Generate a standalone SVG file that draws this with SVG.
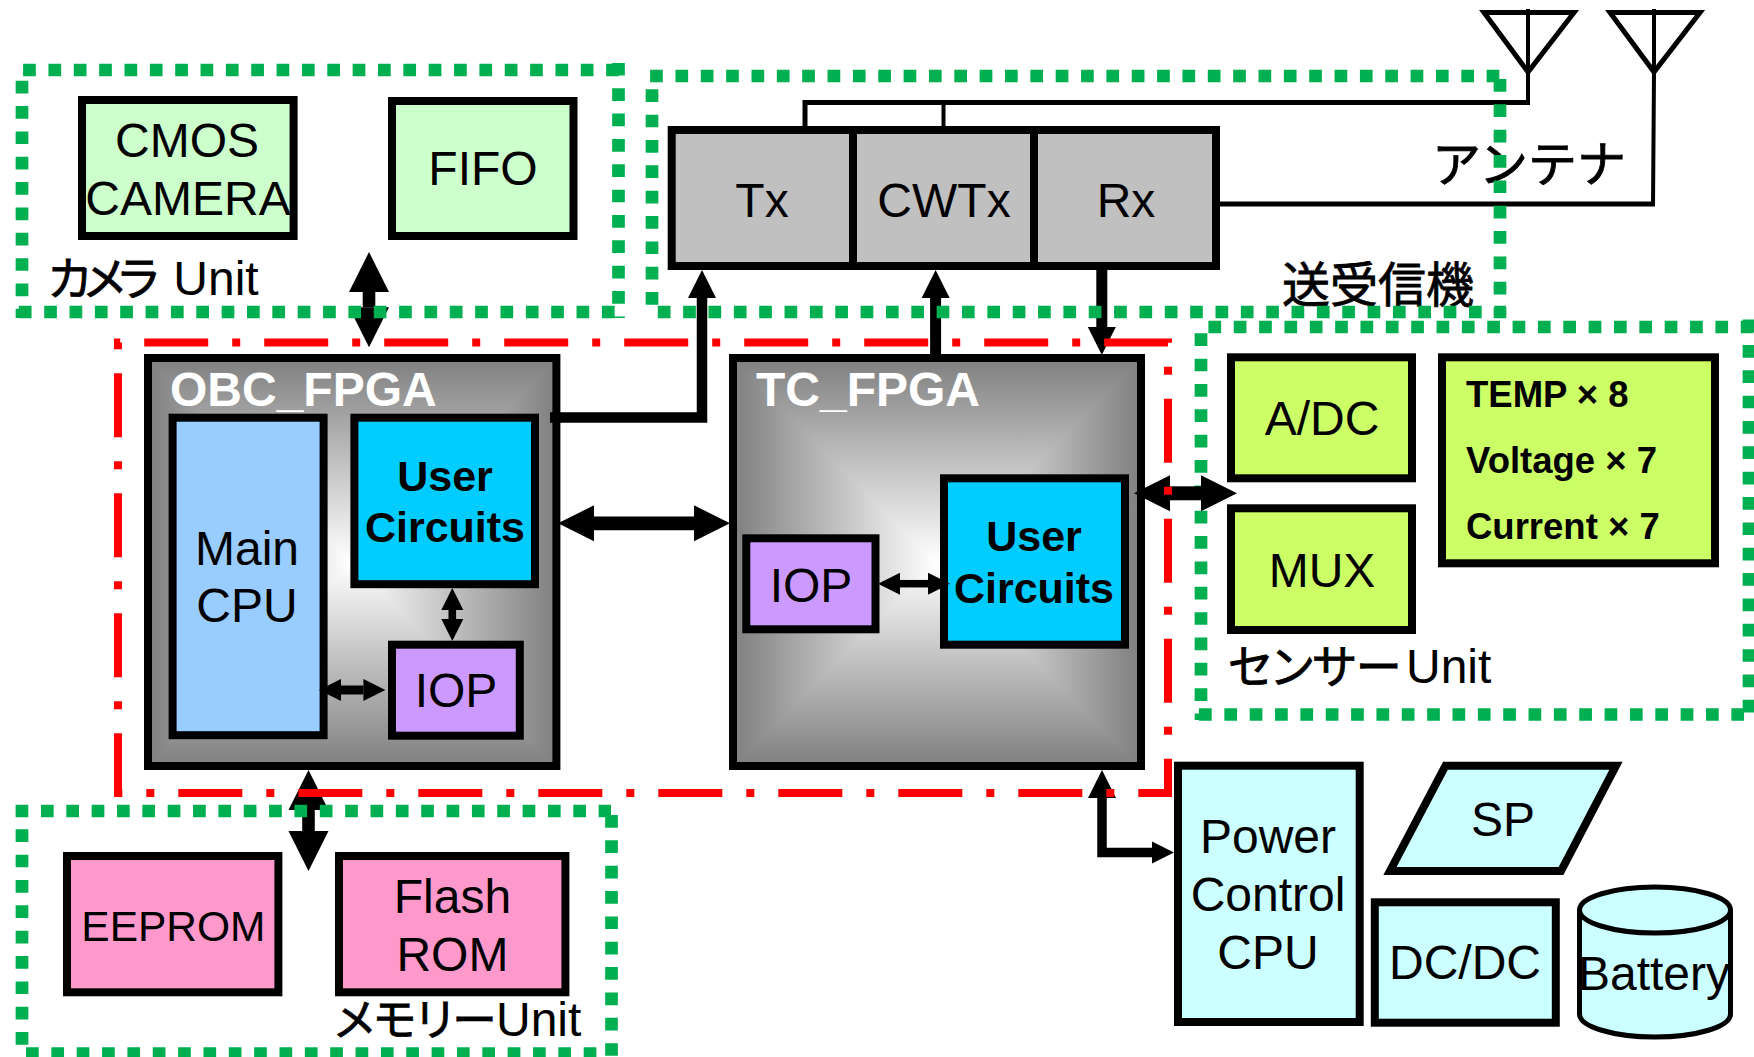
<svg xmlns="http://www.w3.org/2000/svg" width="1754" height="1057" viewBox="0 0 1754 1057">
<style>
text{font-family:"Liberation Sans","Noto Sans CJK JP",sans-serif;font-size:48px;fill:#000;text-anchor:middle}
.ub{font-weight:bold;font-size:43px}
.w{font-weight:bold;fill:#fff;text-anchor:start}
.m{font-weight:bold;font-size:36.5px;text-anchor:start}
.l{text-anchor:start}
.k{font-family:"Noto Sans CJK JP",sans-serif;font-size:46px;font-feature-settings:"palt";stroke:#000;stroke-width:.8}
.n{stroke:#000;stroke-width:8}
.green{fill:#CCFFCC}.gray{fill:#C0C0C0}.blue{fill:#99CCFF}.cyan{fill:#00CCFF}.purple{fill:#CC99FF}.lime{fill:#CCFF66}.pink{fill:#FF99CC}.pale{fill:#CCFFFF}
.frame{fill:none;stroke:#00B050;stroke-width:12.7;stroke-dasharray:12.7 12.65}
.red{fill:none;stroke:#F00;stroke-width:8;stroke-dasharray:64 24 8 24;stroke-dashoffset:93.8}
.wire{fill:none;stroke:#000}
.c{fill:none;stroke:#000}
.grad{shape-rendering:crispEdges}
</style>
<defs>
<linearGradient id="gT" x1="0" y1="0" x2="0" y2="1"><stop offset="0" stop-color="#7F7F7F"/><stop offset="1" stop-color="#fff"/></linearGradient>
<linearGradient id="gB" x1="0" y1="1" x2="0" y2="0"><stop offset="0" stop-color="#7F7F7F"/><stop offset="1" stop-color="#fff"/></linearGradient>
<linearGradient id="gL" x1="0" y1="0" x2="1" y2="0"><stop offset="0" stop-color="#7F7F7F"/><stop offset="1" stop-color="#fff"/></linearGradient>
<linearGradient id="gR" x1="1" y1="0" x2="0" y2="0"><stop offset="0" stop-color="#7F7F7F"/><stop offset="1" stop-color="#fff"/></linearGradient>
<marker id="a40" markerUnits="userSpaceOnUse" viewBox="0 0 10 10" refX="0" refY="5" markerWidth="40" markerHeight="40" orient="auto-start-reverse" overflow="visible"><path d="M0,0L10,5L0,10z"/></marker>
<marker id="a36" markerUnits="userSpaceOnUse" viewBox="0 0 10 10" refX="0" refY="5" markerWidth="36" markerHeight="39.5" orient="auto-start-reverse" overflow="visible"><path d="M0,0L10,5L0,10z"/></marker>
<marker id="a28" markerUnits="userSpaceOnUse" viewBox="0 0 10 10" refX="0" refY="5" markerWidth="28" markerHeight="31" orient="auto-start-reverse" overflow="visible"><path d="M0,0L10,5L0,10z"/></marker>
<marker id="a22" markerUnits="userSpaceOnUse" viewBox="0 0 10 10" refX="0" refY="5" markerWidth="22" markerHeight="24" orient="auto-start-reverse" overflow="visible"><path d="M0,0L10,5L0,10z"/></marker>
</defs>
<rect width="1754" height="1057" fill="#fff"/>
<g id="frame-sensor"><path class="frame" d="M1208.4,327H1754M1749,319.6V720M1199,714.5H1754M1201,333.3V720"/></g>

<g id="antenna-1"><path class="wire" stroke-width="5" d="M1484,12.5H1574L1528,72z"/><path class="wire" stroke-width="4" d="M1528,9V105"/></g>
<g id="antenna-2"><path class="wire" stroke-width="5" d="M1610,12.5H1700L1654,72z"/><path class="wire" stroke-width="4" d="M1654,9V73L1653,206"/></g>
<g id="wires"><path class="wire" stroke-width="5" d="M805,126V102.5H1530"/><path class="wire" stroke-width="4" d="M943.5,102.5V126"/><path class="wire" stroke-width="5" d="M1218,204H1655"/></g>

<g id="cmos"><rect class="n green" x="82" y="100" width="211.6" height="136"/><text x="187" y="157">CMOS</text><text x="188" y="215">CAMERA</text></g>
<g id="fifo"><rect class="n green" x="392" y="101" width="181.5" height="135"/><text x="483" y="185">FIFO</text></g>
<g id="camera-label"><text class="l" x="48" y="295"><tspan class="k" style="letter-spacing:-6px">カメラ</tspan><tspan x="160"> Unit</tspan></text></g>

<g id="tx"><rect class="n gray" x="671.7" y="130" width="181.3" height="136"/><text x="762" y="216.7">Tx</text></g>
<g id="cwtx"><rect class="n gray" x="853" y="130" width="181" height="136"/><text x="944" y="216.7">CWTx</text></g>
<g id="rx"><rect class="n gray" x="1034" y="130" width="182" height="136"/><text x="1126" y="216.7">Rx</text></g>
<g id="antenna-label"><text class="k" x="1529" y="182" style="font-feature-settings:normal;font-size:49px">アンテナ</text></g>
<g id="transceiver-label"><text class="k" x="1378" y="302" style="font-size:48px">送受信機</text></g>

<g id="obc-fpga"><rect x="148" y="358" width="408.4" height="408" fill="#7F7F7F"/>
<g class="grad"><path fill="url(#gT)" d="M148,358H556.4L352,562z"/><path fill="url(#gB)" d="M148,766H556.4L352,562z"/><path fill="url(#gL)" d="M148,358V766L352,562z"/><path fill="url(#gR)" d="M556.4,358V766L352,562z"/></g>
<rect x="148" y="358" width="408.4" height="408" fill="none" class="n"/><text class="w" x="170" y="406">OBC_FPGA</text></g>
<g id="main-cpu"><rect class="n blue" x="172.6" y="417.7" width="151" height="317.5"/><text x="247" y="565">Main</text><text x="247" y="622">CPU</text></g>
<g id="obc-user"><rect class="n cyan" x="354.4" y="417.7" width="180.6" height="166.5"/><text class="ub" x="445" y="490.7">User</text><text class="ub" x="445" y="541.5">Circuits</text></g>
<g id="obc-iop"><rect class="n purple" x="392" y="644.7" width="127.8" height="91"/><text x="456" y="707.3">IOP</text></g>

<g id="tc-fpga"><rect x="733" y="358" width="408" height="408" fill="#7F7F7F"/>
<g class="grad"><path fill="url(#gT)" d="M733,358H1141L937,562z"/><path fill="url(#gB)" d="M733,766H1141L937,562z"/><path fill="url(#gL)" d="M733,358V766L937,562z"/><path fill="url(#gR)" d="M1141,358V766L937,562z"/></g>
<rect x="733" y="358" width="408" height="408" fill="none" class="n"/><text class="w" x="756" y="406">TC_FPGA</text></g>
<g id="tc-iop"><rect class="n purple" x="746.3" y="538.3" width="129.2" height="91"/><text x="811" y="601.7">IOP</text></g>
<g id="tc-user"><rect class="n cyan" x="944" y="478.3" width="181" height="166.4"/><text class="ub" x="1034" y="550.7">User</text><text class="ub" x="1034" y="602.8">Circuits</text></g>

<g id="adc"><rect class="n lime" x="1231" y="357.3" width="181" height="121"/><text x="1322" y="435">A/DC</text></g>
<g id="mux"><rect class="n lime" x="1231" y="508.3" width="181" height="121.7"/><text x="1322" y="586.7">MUX</text></g>
<g id="sensors"><rect class="n lime" x="1442" y="357.3" width="273" height="206"/><text class="m" x="1466" y="406.7">TEMP × 8</text><text class="m" x="1466" y="473.3">Voltage × 7</text><text class="m" x="1466" y="539.3">Current × 7</text></g>
<g id="sensor-label"><text class="l" x="1228" y="682.7"><tspan class="k">センサー</tspan><tspan x="1406">Unit</tspan></text></g>

<g id="eeprom"><rect class="n pink" x="67" y="856" width="211.4" height="136.3"/><text x="173.4" y="940.7" style="font-size:42.5px">EEPROM</text></g>
<g id="flash"><rect class="n pink" x="339" y="856" width="226.4" height="136.3"/><text x="452.4" y="913.3">Flash</text><text x="452.4" y="970.7">ROM</text></g>
<g id="memory-label"><text class="l" x="335" y="1036"><tspan class="k" style="font-size:44.5px">メモリー</tspan><tspan x="496">Unit</tspan></text></g>

<g id="power-cpu"><rect class="n pale" x="1178" y="765.7" width="181.7" height="256.3"/><text x="1268" y="853.3">Power</text><text x="1268" y="910.7">Control</text><text x="1268" y="969.3">CPU</text></g>
<g id="sp"><path class="n pale" d="M1445.5,765.7H1616L1561,871H1390z"/><text x="1503" y="836">SP</text></g>
<g id="dcdc"><rect class="n pale" x="1374.8" y="902.3" width="181" height="120.4"/><text x="1465" y="979.3">DC/DC</text></g>
<g id="battery"><path class="pale" stroke="#000" stroke-width="5" d="M1579.5,910A75.5,23 0 0 1 1730.5,910V1014A75.5,23 0 0 1 1579.5,1014z"/><path fill="none" stroke="#000" stroke-width="5" d="M1579.5,910A75.5,23 0 0 0 1730.5,910"/><text x="1654" y="990">Battery</text></g>

<g id="connectors">
<path class="c" stroke-width="12.6" d="M369,292V307.3" marker-start="url(#a40)" marker-end="url(#a40)"/>
<path class="c" stroke-width="10.5" d="M550,417.5H702V298" marker-end="url(#a28)"/>
<path class="c" stroke-width="11" d="M935.6,354V298" marker-end="url(#a28)"/>
<path class="c" stroke-width="11" d="M1101.8,270V327" marker-end="url(#a28)"/>
<path class="c" stroke-width="13.7" d="M594,523.3H694" marker-start="url(#a36)" marker-end="url(#a36)"/>
<path class="c" stroke-width="7.6" d="M452.3,610V619" marker-start="url(#a22)" marker-end="url(#a22)"/>
<path class="c" stroke-width="9" d="M341,690H363.4" marker-start="url(#a22)" marker-end="url(#a22)"/>
<path class="c" stroke-width="7.5" d="M900,583.7H928" marker-start="url(#a22)" marker-end="url(#a22)"/>
<path class="c" stroke-width="14" d="M1170,493.3H1201" marker-start="url(#a36)" marker-end="url(#a36)"/>
<path class="c" stroke-width="12.6" d="M308.5,810V831" marker-start="url(#a40)" marker-end="url(#a40)"/>
<path class="c" stroke-width="9.5" d="M1102,798V852.5H1152" marker-start="url(#a28)" marker-end="url(#a22)"/>
</g>

<g id="frame-camera"><path class="frame" d="M23.1,70H625M618.5,62.9V318M18.85,312H618M22,80.7V318"/></g>
<g id="frame-transceiver"><path class="frame" d="M650.1,76H1506M1500,79V318M657.8,312H1506M652,89.3V312"/></g>
<g id="frame-memory"><path class="frame" d="M15.6,811H611M611.5,815V1057M26,1053.5H605M22,829.3V1050"/></g>
<g id="frame-obc-tc"><rect class="red" x="118" y="342.5" width="1050" height="450.5"/></g>
</svg>
